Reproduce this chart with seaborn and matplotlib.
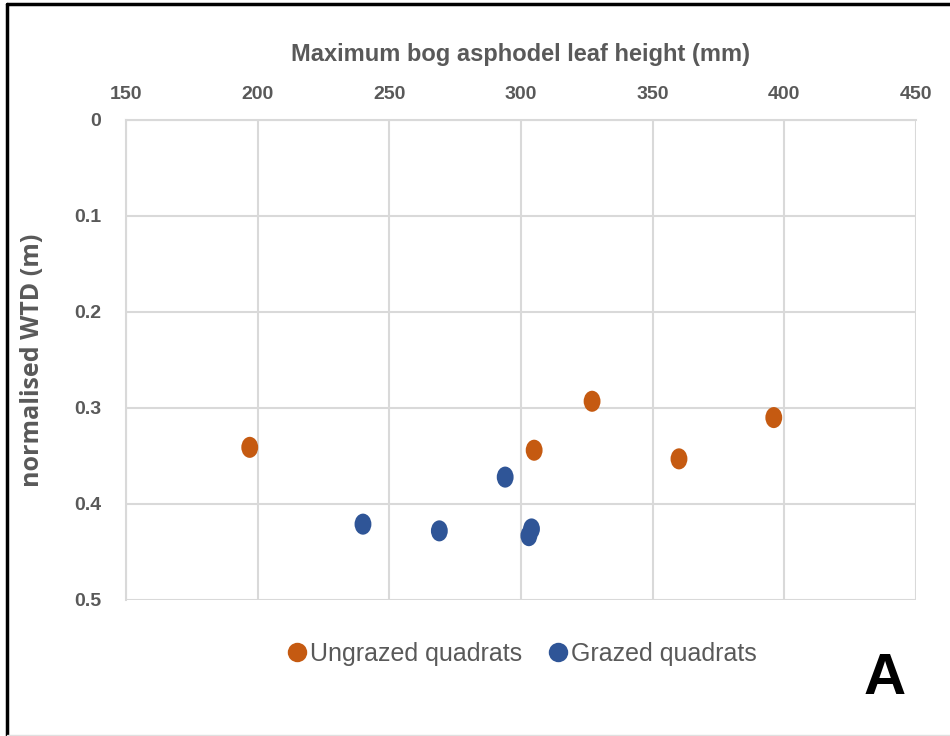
import matplotlib
matplotlib.use("Agg")
import matplotlib.pyplot as plt
import matplotlib.lines as mlines
from matplotlib.path import Path
from matplotlib.markers import MarkerStyle
from matplotlib.transforms import Affine2D
import seaborn as sns
import pandas as pd

# Leaf height (mm) and normalised water-table depth (m)
ungrazed_height = [197, 305, 327, 360, 396]
ungrazed_wtd = [0.341, 0.344, 0.293, 0.353, 0.310]
grazed_height = [240, 269, 294, 304, 303]
grazed_wtd = [0.421, 0.428, 0.372, 0.426, 0.433]
group_names = ["Ungrazed quadrats", "Grazed quadrats"]
x_ticks = [150, 200, 250, 300, 350, 400, 450]
y_ticks = [0, 0.1, 0.2, 0.3, 0.4, 0.5]
y_tick_labels = ["0", "0.1", "0.2", "0.3", "0.4", "0.5"]

df = pd.DataFrame({
    "height": ungrazed_height + grazed_height,
    "wtd": ungrazed_wtd + grazed_wtd,
    "group": [group_names[0]] * len(ungrazed_height) + [group_names[1]] * len(grazed_height),
})

orange = "#C55A11"
blue = "#2F5597"
grey_text = "#595959"

sns.set_style("white")
plt.rcParams["font.family"] = ["Liberation Sans", "DejaVu Sans"]

fig = plt.figure(figsize=(9.5, 7.36), dpi=100)
ax = fig.add_axes([0.1326, 0.1848, 0.9642 - 0.1326, 0.837 - 0.1848])

# slightly tall ellipse marker
ellipse = Path.unit_circle().transformed(Affine2D().scale(0.8, 1.0))
sns.scatterplot(data=df, x="height", y="wtd", hue="group",
                palette={group_names[0]: orange, group_names[1]: blue},
                marker=MarkerStyle(ellipse), s=230, linewidth=0, ax=ax, legend=False)

ax.set_xlim(150, 450)
ax.set_ylim(0.5, 0)
ax.set_xticks(x_ticks)
ax.set_yticks(y_ticks)
ax.set_yticklabels(y_tick_labels)
ax.xaxis.tick_top()
ax.xaxis.set_label_position("top")
ax.tick_params(axis="both", length=0, labelsize=14, labelcolor=grey_text, pad=18)
ax.tick_params(axis="x", pad=12)
for lbl in ax.get_xticklabels() + ax.get_yticklabels():
    lbl.set_fontweight("bold")
ax.grid(True, color="#D9D9D9", linewidth=1.5)
ax.set_axisbelow(True)
for side in ["right", "bottom"]:
    ax.spines[side].set_visible(False)
for side in ["left", "top"]:
    ax.spines[side].set_color("#D9D9D9")
    ax.spines[side].set_linewidth(1.5)

ax.set_xlabel("Maximum bog asphodel leaf height (mm)", fontsize=17, fontweight="bold",
              color=grey_text, labelpad=18)
ax.set_ylabel("normalised WTD (m)", fontsize=18, fontweight="bold",
              color=grey_text, labelpad=21,
              family=["Open Sans", "DejaVu Sans"])

handles = [mlines.Line2D([], [], linestyle="", marker="o", markersize=14,
                         markerfacecolor=c, markeredgewidth=0)
           for c in (orange, blue)]
leg = fig.legend(handles, group_names, loc="center", bbox_to_anchor=(0.548, 0.112),
                 ncol=2, frameon=False, fontsize=18, handletextpad=0.05,
                 columnspacing=0.9, handlelength=1.0)
for t in leg.get_texts():
    t.set_color(grey_text)

fig.text(0.931, 0.077, "A", fontsize=42, fontweight="bold", color="black",
         ha="center", va="center")

# frame around the panel
fig.add_artist(mlines.Line2D([0.0075, 0.0075], [0, 0.995], transform=fig.transFigure,
                             color="black", linewidth=2.5))
fig.add_artist(mlines.Line2D([0.0075, 1.0], [0.995, 0.995], transform=fig.transFigure,
                             color="black", linewidth=2.5))
fig.add_artist(mlines.Line2D([0.0075, 1.0], [0.002, 0.002], transform=fig.transFigure,
                             color="#E0E0E0", linewidth=1))

fig.savefig("out.png", dpi=100)
